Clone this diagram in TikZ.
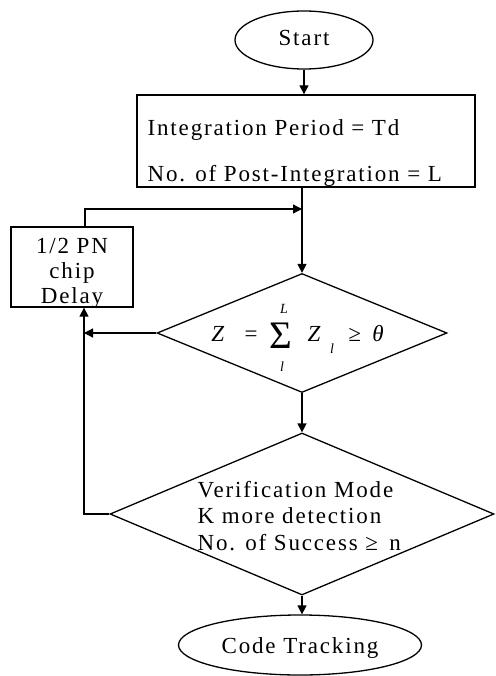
\documentclass[tikz,border=0pt]{standalone}
\usepackage{fontspec}
\setmainfont[LetterSpace=8]{Liberation Serif}
\newfontfamily\plainserif{Liberation Serif}
\usetikzlibrary{shapes.geometric,arrows.meta}
\begin{document}
\begin{tikzpicture}[x=1pt,y=-1pt,
  line width=1.3pt,
  arr/.style={-{Triangle[length=9pt,width=9pt]}},
  txt/.style={inner sep=0pt, font=\fontsize{23}{28}\selectfont, anchor=base west},
  ctxt/.style={inner sep=0pt, font=\fontsize{23}{28}\selectfont, anchor=base},
  mtxt/.style={inner sep=0pt, font=\fontsize{23}{28}\selectfont\itshape, anchor=base},
  small/.style={inner sep=0pt, font=\fontsize{14}{14}\selectfont\itshape},
  oval/.style={ellipse, draw, inner sep=0pt},
  boxx/.style={rectangle, draw, inner sep=0pt},
  dia/.style={diamond, draw, inner sep=0pt}]
\useasboundingbox (0,0) rectangle (495,676);

% nodes
\node[oval, minimum width=138pt, minimum height=58pt] (start) at (304,40) {};
\node[ctxt] (starttxt) at (304,46) {Start};

\node[boxx, minimum width=338pt, minimum height=92pt] (box) at (306,141) {};
\node[txt] (boxl1) at (147,136) {Integration Period = Td};
\node[txt] (boxl2) at (147,182) {No. of Post-Integration = L};

\node[boxx, minimum width=122pt, minimum height=80pt] (delay) at (72,267) {};
\node[ctxt] (dl1) at (72,253) {1/2 PN};
\node[ctxt] (dl2) at (72,278) {chip};
\node[ctxt] (dl3) at (72,303) {Delay};

\node[dia, minimum width=290pt, minimum height=119pt] (d1) at (302,333) {};
\node[mtxt] (zeq) at (235,341) {Z \ \,=};
\node[inner sep=0pt, font=\fontsize{39}{39}\selectfont\plainserif] (sig) at (281,336) {Σ};
\node[small] (supL) at (284,309) {L};
\node[small] (subl) at (282,367) {l};
\node[mtxt] (zl) at (314,341) {Z};
\node[small] (zlsub) at (332,349) {l};
\node[mtxt] (geq) at (366,341) {≥ \,θ};

\node[dia, minimum width=384pt, minimum height=162pt] (d2) at (302,514) {};
\node[txt] (v1) at (197,497) {Verification Mode};
\node[txt] (v2) at (197,523) {K more detection};
\node[txt] (v3) at (197,550) {No. of Success ≥ \,n};

\node[oval, minimum width=243pt, minimum height=60pt] (code) at (300,645) {};
\node[ctxt] (codetxt) at (300,653) {Code Tracking};

% connectors
\coordinate (join) at (302,209);
\coordinate (leftline) at (84,333);
\draw[arr] (start.south) -- (start.south |- box.north);
\draw[arr] (d1.north |- box.south) -- (d1.north);
\draw[arr] ([xshift=13pt]delay.north) |- (join);
\draw[arr] (d1.west) -- (leftline);
\draw[arr] (d2.west) -| ([xshift=12pt]delay.south);
\draw[arr] (d1.south) -- (d2.north);
\draw[arr] (d2.south) -- (d2.south |- code.north);
\end{tikzpicture}
\end{document}
